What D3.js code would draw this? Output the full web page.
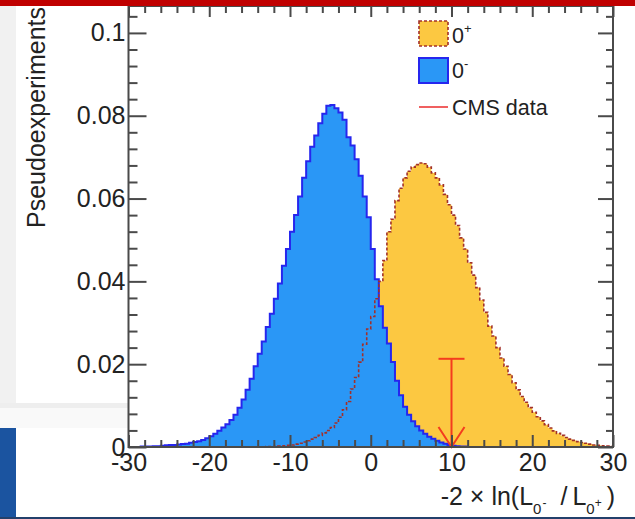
<!DOCTYPE html>
<html>
<head>
<meta charset="utf-8">
<script src="https://cdn.jsdelivr.net/npm/d3@7"></script>
<style>
body { margin: 0; background: #fff; }
svg { display: block; }
text { font-family: "Liberation Sans", Arial, Helvetica, sans-serif; }
</style>
</head>
<body>
<svg></svg>
<script>
const WIDTH = 635;
const HEIGHT = 519;

// histogram binning: 120 bins from -30 to 30
const binLow = -30;
const binWidth = 0.5;

// 0- hypothesis (blue)
const zeroMinus = [
  0, 0, 0, 0.0001, 0.0001, 0.0001, 0.0002, 0.0002, 0.0003, 0.0004,
  0.0005, 0.0005, 0.0006, 0.0007, 0.0008, 0.0010, 0.0012, 0.0014, 0.0017, 0.0021,
  0.0026, 0.0032, 0.0039, 0.0047, 0.0055, 0.0065, 0.0078, 0.0095, 0.0115, 0.0138,
  0.0165, 0.0195, 0.0225, 0.0255, 0.0290, 0.0322, 0.0358, 0.0395, 0.0438, 0.0478,
  0.0520, 0.0560, 0.0605, 0.0650, 0.0690, 0.0725, 0.0752, 0.0782, 0.0805, 0.0824,
  0.0826, 0.0818, 0.0808, 0.0790, 0.0748, 0.0728, 0.0695, 0.0655, 0.0605, 0.0555,
  0.0478, 0.0405, 0.0340, 0.0288, 0.0250, 0.0205, 0.0160, 0.0125, 0.0097, 0.0078,
  0.0062, 0.0050, 0.0040, 0.0032, 0.0025, 0.0020, 0.0015, 0.0011, 0.0008, 0.0005,
  0.0003, 0.0002, 0.0001, 0.0001, 0, 0, 0, 0, 0, 0,
  0, 0, 0, 0, 0, 0, 0, 0, 0, 0,
  0, 0, 0, 0, 0, 0, 0, 0, 0, 0,
  0, 0, 0, 0, 0, 0, 0, 0, 0, 0
];

// 0+ hypothesis (orange)
const zeroPlus = [
  0, 0, 0, 0, 0, 0, 0, 0, 0, 0,
  0, 0, 0, 0, 0, 0, 0, 0, 0, 0,
  0, 0, 0, 0, 0, 0, 0, 0, 0, 0,
  0, 0, 0, 0, 0.0001, 0.0001, 0.0001, 0.0002, 0.0003, 0.0004,
  0.0005, 0.0007, 0.0009, 0.0012, 0.0015, 0.0019, 0.0023, 0.0028, 0.0034, 0.0040,
  0.0047, 0.0058, 0.0072, 0.0090, 0.0110, 0.0140, 0.0168, 0.0205, 0.0248, 0.0285,
  0.0315, 0.0358, 0.0400, 0.0450, 0.0520, 0.0550, 0.0595, 0.0625, 0.0650, 0.0666,
  0.0676, 0.0682, 0.0686, 0.0684, 0.0676, 0.0662, 0.0650, 0.0633, 0.0610, 0.0585,
  0.0560, 0.0535, 0.0505, 0.0478, 0.0445, 0.0415, 0.0385, 0.0355, 0.0325, 0.0292,
  0.0268, 0.0240, 0.0215, 0.0195, 0.0175, 0.0155, 0.0138, 0.0122, 0.0108, 0.0095,
  0.0084, 0.0073, 0.0063, 0.0054, 0.0046, 0.0039, 0.0033, 0.0028, 0.0023, 0.0019,
  0.0016, 0.0013, 0.0011, 0.0009, 0.0007, 0.0005, 0.0004, 0.0003, 0.0002, 0.0001
];

const cmsValue = 10;
const cmsBarTop = 0.0213;

const xTicks = [-30, -20, -10, 0, 10, 20, 30];
const xTickLabels = ["-30", "-20", "-10", "0", "10", "20", "30"];
const yTicks = [0, 0.02, 0.04, 0.06, 0.08, 0.1];
const yTickLabels = ["0", "0.02", "0.04", "0.06", "0.08", "0.1"];

const plotLeft = 128.5, plotRight = 613, plotTop = 6, plotBottom = 447;
const axisColor = "#4a4a4a";
const textColor = "#222";
const blueFill = "#2a97f6", blueLine = "#2626ee";
const orangeFill = "#fcc841", orangeLine = "#a2302a";
const red = "#f43c1e";

var svg = d3.select("svg").attr("width", WIDTH).attr("height", HEIGHT);

// page decoration around the plot
svg.append("rect").attr("width", WIDTH).attr("height", HEIGHT).attr("fill", "#fff");
svg.append("rect").attr("x", 0).attr("y", 0).attr("width", 16).attr("height", 403).attr("fill", "#f1f1f1");
svg.append("rect").attr("x", 0).attr("y", 403).attr("width", 128).attr("height", 5).attr("fill", "#eeeeee");
svg.append("rect").attr("x", 0).attr("y", 408).attr("width", 128).attr("height", 20).attr("fill", "#f9f9f9");
svg.append("rect").attr("x", 0).attr("y", 428).attr("width", 16).attr("height", 91).attr("fill", "#1b54a0");
svg.append("rect").attr("x", 0).attr("y", 517).attr("width", WIDTH).attr("height", 2).attr("fill", "#23406b");

var x = d3.scaleLinear().domain([-30, 30]).range([plotLeft, plotRight]);
var y = d3.scaleLinear().domain([0, 0.1065]).range([plotBottom, plotTop]);

function steps(values) {
  var pts = values.map((v, i) => [binLow + i * binWidth, v]);
  pts.push([binLow + values.length * binWidth, values[values.length - 1]]);
  return pts;
}

var area = d3.area().curve(d3.curveStepAfter)
  .x(d => x(d[0])).y0(y(0)).y1(d => y(d[1]));
var line = d3.line().curve(d3.curveStepAfter)
  .x(d => x(d[0])).y(d => y(d[1]));

var plusPts = steps(zeroPlus);
var minusPts = steps(zeroMinus);

svg.append("path").attr("d", area(plusPts)).attr("fill", orangeFill);
svg.append("path").attr("d", area(minusPts)).attr("fill", blueFill);
svg.append("path").attr("d", line(minusPts)).attr("fill", "none")
  .attr("stroke", blueLine).attr("stroke-width", 2);
svg.append("path").attr("d", line(plusPts)).attr("fill", "none")
  .attr("stroke", orangeLine).attr("stroke-width", 1.6).attr("stroke-dasharray", "3,2");

// CMS data arrow
var cx = x(cmsValue);
svg.append("line").attr("x1", cx).attr("x2", cx).attr("y1", y(cmsBarTop)).attr("y2", y(0))
  .attr("stroke", red).attr("stroke-width", 2);
svg.append("line").attr("x1", cx - 13).attr("x2", cx + 13).attr("y1", y(cmsBarTop)).attr("y2", y(cmsBarTop))
  .attr("stroke", red).attr("stroke-width", 2);
svg.append("path").attr("d", `M${cx - 13},${y(0) - 20}L${cx},${y(0)}L${cx + 13},${y(0) - 20}`)
  .attr("fill", "none").attr("stroke", red).attr("stroke-width", 2);

// axes, ROOT style ticks inside the frame
function styleAxis(g) {
  g.select(".domain").remove();
  g.selectAll("line").attr("stroke", axisColor).attr("stroke-width", 2);
  g.selectAll("text").attr("fill", textColor);
  g.attr("font-size", 25).attr("font-family", "Liberation Sans, Arial, sans-serif");
}

var xMinor = d3.range(-28, 30, 2).filter(v => v % 10 !== 0);
var yMinor = d3.range(1, 27).map(i => i * 0.004).filter(v => Math.abs(v / 0.02 - Math.round(v / 0.02)) > 1e-6);

svg.append("g").attr("transform", `translate(0,${plotBottom})`)
  .call(d3.axisBottom(x).tickValues(xMinor).tickSizeInner(-7).tickSizeOuter(0).tickFormat(""))
  .call(styleAxis);
svg.append("g").attr("transform", `translate(0,${plotBottom})`)
  .call(d3.axisBottom(x).tickValues(xTicks).tickSizeInner(-12).tickSizeOuter(0).tickPadding(6)
    .tickFormat((d, i) => xTickLabels[i]))
  .call(styleAxis);
svg.append("g").attr("transform", `translate(0,${plotTop})`)
  .call(d3.axisTop(x).tickValues(xMinor).tickSizeInner(-7).tickSizeOuter(0).tickFormat(""))
  .call(styleAxis);
svg.append("g").attr("transform", `translate(0,${plotTop})`)
  .call(d3.axisTop(x).tickValues(xTicks).tickSizeInner(-11).tickSizeOuter(0).tickFormat(""))
  .call(styleAxis);

svg.append("g").attr("transform", `translate(${plotLeft},0)`)
  .call(d3.axisLeft(y).tickValues(yMinor).tickSizeInner(-9).tickSizeOuter(0).tickFormat(""))
  .call(styleAxis);
svg.append("g").attr("transform", `translate(${plotLeft},0)`)
  .call(d3.axisLeft(y).tickValues(yTicks).tickSizeInner(-18).tickSizeOuter(0).tickPadding(3)
    .tickFormat((d, i) => yTickLabels[i]))
  .call(styleAxis);
svg.append("g").attr("transform", `translate(${plotRight},0)`)
  .call(d3.axisRight(y).tickValues(yMinor).tickSizeInner(-7).tickSizeOuter(0).tickFormat(""))
  .call(styleAxis);
svg.append("g").attr("transform", `translate(${plotRight},0)`)
  .call(d3.axisRight(y).tickValues(yTicks).tickSizeInner(-15).tickSizeOuter(0).tickFormat(""))
  .call(styleAxis);

// frame
svg.append("rect").attr("x", plotLeft).attr("y", plotTop)
  .attr("width", plotRight - plotLeft).attr("height", plotBottom - plotTop)
  .attr("fill", "none").attr("stroke", axisColor).attr("stroke-width", 2);

// red banner on top
svg.append("rect").attr("x", 0).attr("y", 0).attr("width", WIDTH).attr("height", 6).attr("fill", "#c00000");

// axis titles
svg.append("text").attr("transform", "translate(45,7) rotate(-90)")
  .attr("text-anchor", "end").attr("font-size", 25).attr("fill", textColor)
  .text("Pseudoexperiments");

var xt = svg.append("text").attr("x", 615).attr("y", 505)
  .attr("text-anchor", "end").attr("font-size", 25).attr("fill", textColor);
xt.append("tspan").text("-2 × ln(L");
xt.append("tspan").attr("font-size", 15).attr("dy", 9).text("0");
xt.append("tspan").attr("font-size", 12).attr("dy", -7).attr("dx", 1).text("-");
xt.append("tspan").attr("dy", -2).attr("dx", 14).text("/");
xt.append("tspan").attr("dx", 5).text("L");
xt.append("tspan").attr("font-size", 15).attr("dy", 9).text("0");
xt.append("tspan").attr("font-size", 12).attr("dy", -7).text("+");
xt.append("tspan").attr("dy", -2).attr("dx", 5).text(")");

// legend
const legendLabels = ["0", "0", "CMS data"];
const legendSups = ["+", "-", ""];
var lg = svg.append("g");
lg.append("rect").attr("x", 419).attr("y", 21).attr("width", 29).attr("height", 25)
  .attr("fill", orangeFill).attr("stroke", orangeLine).attr("stroke-width", 1.6).attr("stroke-dasharray", "3,2");
lg.append("rect").attr("x", 419).attr("y", 58).attr("width", 29).attr("height", 25)
  .attr("fill", blueFill).attr("stroke", blueLine).attr("stroke-width", 2);
lg.append("line").attr("x1", 419).attr("x2", 448).attr("y1", 107).attr("y2", 107)
  .attr("stroke", "#f06060").attr("stroke-width", 2);
var lgY = [43, 78, 115];
legendLabels.forEach((t, i) => {
  var tx = lg.append("text").attr("x", 452).attr("y", lgY[i]).attr("font-size", 21.5).attr("fill", textColor);
  tx.append("tspan").text(t);
  if (legendSups[i]) tx.append("tspan").attr("font-size", 13).attr("dy", -10).text(legendSups[i]);
});
</script>
</body>
</html>
